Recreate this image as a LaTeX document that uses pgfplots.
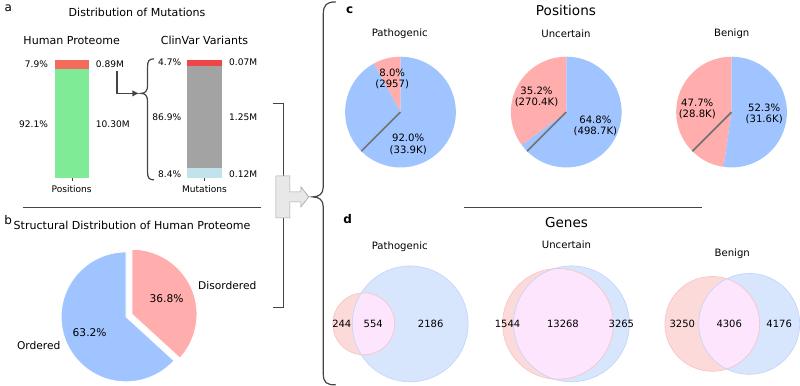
\documentclass[border=0pt]{standalone}
\usepackage{pgfplots}
\pgfplotsset{compat=1.18}
\usetikzlibrary{arrows.meta}
\usepackage{fontspec}
\setmainfont{DejaVu Sans}
\definecolor{hpred}{HTML}{F26B5B}
\definecolor{hpgreen}{HTML}{80EB97}
\definecolor{cvred}{HTML}{F04545}
\definecolor{cvgray}{HTML}{A3A3A3}
\definecolor{cvblue}{HTML}{C3E3EC}
\definecolor{pblue}{HTML}{A0C4FF}
\definecolor{pred}{HTML}{FFADAD}
\definecolor{vred}{HTML}{FDDADA}
\definecolor{vblue}{HTML}{D7E5FD}
\definecolor{vmix}{HTML}{FDE5FD}
\definecolor{vredE}{HTML}{F8C4C4}
\definecolor{vblueE}{HTML}{C2D6FA}
\definecolor{ln}{HTML}{444444}
\newcommand{\fT}{\fontsize{8.3}{9.5}\selectfont}
\newcommand{\fL}{\fontsize{6.8}{8}\selectfont}
\newcommand{\fB}{\fontsize{8}{9.5}\selectfont}
\newcommand{\fP}{\fontsize{7.6}{8.6}\selectfont}
\newcommand{\fH}{\fontsize{10.2}{12}\selectfont}
\newcommand{\fN}{\fontsize{7.5}{9}\selectfont}
\newcommand{\fLet}{\fontsize{9}{10}\selectfont}
\begin{document}
\begin{tikzpicture}
\begin{axis}[at={(0,0)},anchor=south west,width=600pt,height=291pt,scale only axis,
  xmin=0,xmax=800,ymin=0,ymax=388,y dir=reverse,hide axis,clip=false]
\coordinate (hpSW) at (axis cs:53.5,178);
\coordinate (cvSW) at (axis cs:186,178);
% ---------- panel a text ----------
\node[font=\fLet] at (axis cs:7,8) {a};
\node[font=\fT] at (axis cs:136,12.5) {Distribution of Mutations};
\node[font=\fT] at (axis cs:70.5,40.5) {Human Proteome};
\node[font=\fT] at (axis cs:203.5,40.5) {ClinVar Variants};
\node[font=\fL,anchor=east,inner sep=0pt] at (axis cs:47,64.5) {7.9\%};
\node[font=\fL,anchor=east,inner sep=0pt] at (axis cs:47,124) {92.1\%};
\node[font=\fL,anchor=west,inner sep=0pt] at (axis cs:94.5,64.5) {0.89M};
\node[font=\fL,anchor=west,inner sep=0pt] at (axis cs:94.5,124) {10.30M};
\node[font=\fL,anchor=east,inner sep=0pt] at (axis cs:180.5,62.5) {4.7\%};
\node[font=\fL,anchor=east,inner sep=0pt] at (axis cs:180.5,117.5) {86.9\%};
\node[font=\fL,anchor=east,inner sep=0pt] at (axis cs:180.5,174) {8.4\%};
\node[font=\fL,anchor=west,inner sep=0pt] at (axis cs:228,62.5) {0.07M};
\node[font=\fL,anchor=west,inner sep=0pt] at (axis cs:228,117.5) {1.25M};
\node[font=\fL,anchor=west,inner sep=0pt] at (axis cs:228,174) {0.12M};
\draw[ln,line width=0.6pt] (axis cs:70.75,178) -- (axis cs:70.75,181);
\draw[ln,line width=0.6pt] (axis cs:203.5,178) -- (axis cs:203.5,181);
\node[font=\fL] at (axis cs:70.5,189.5) {Positions};
\node[font=\fL] at (axis cs:203.5,189.5) {Mutations};
% arrow and brace
\draw[ln,line width=1pt,-{Latex[length=5pt,width=5pt]}] (axis cs:116,71) -- (axis cs:116,93.5) -- (axis cs:138,93.5);
\draw[ln,line width=0.9pt] (axis cs:153,59) .. controls (axis cs:148,59) and (axis cs:146.5,61) .. (axis cs:146.5,67)
  -- (axis cs:146.5,86) .. controls (axis cs:146.5,91) and (axis cs:144,93.5) .. (axis cs:140,93.5)
  .. controls (axis cs:144,93.5) and (axis cs:146.5,96) .. (axis cs:146.5,101)
  -- (axis cs:146.5,172) .. controls (axis cs:146.5,178) and (axis cs:148,180) .. (axis cs:153,180);
\draw[ln,line width=0.8pt] (axis cs:22,207.5) -- (axis cs:260,207.5);
% ---------- panel b ----------
\node[font=\fLet] at (axis cs:7,220) {b};
\node[font=\fT] at (axis cs:131,225.5) {Structural Distribution of Human Proteome};
\fill[pblue,draw=white,line width=0.6pt] (axis cs:125,317) -- ++(90:48.75pt) arc[start angle=90,end angle={90+3.6*63.2},radius=48.75pt] -- cycle;
\fill[pred,draw=white,line width=0.6pt] ([shift={(23.76:4.9pt)}]axis cs:125,317) -- ++({90-3.6*36.8}:48.75pt) arc[start angle={90-3.6*36.8},end angle=90,radius=48.75pt] -- cycle;
\node[font=\fB] at (axis cs:165.5,299) {36.8\%};
\node[font=\fB] at (axis cs:88.5,333) {63.2\%};
\node[font=\fB,anchor=west,inner sep=0pt] at (axis cs:197,286) {Disordered};
\node[font=\fB,anchor=east,inner sep=0pt] at (axis cs:59.5,346) {Ordered};
% middle connector
\draw[ln,line width=0.8pt] (axis cs:272,104) -- (axis cs:283,104) -- (axis cs:283,308) -- (axis cs:272,308);
\filldraw[fill=black!9,draw=black!35,line width=0.5pt] (axis cs:275,176) -- (axis cs:289,176) -- (axis cs:289,192) -- (axis cs:300,192) -- (axis cs:300,187) -- (axis cs:308,197) -- (axis cs:300,207) -- (axis cs:300,202) -- (axis cs:289,202) -- (axis cs:289,218) -- (axis cs:275,218) -- cycle;
\draw[ln,line width=0.9pt] (axis cs:335,2) .. controls (axis cs:326,2) and (axis cs:322.5,5) .. (axis cs:322.5,14)
  -- (axis cs:322.5,187) .. controls (axis cs:322.5,194) and (axis cs:318,197) .. (axis cs:312,197)
  .. controls (axis cs:318,197) and (axis cs:322.5,200) .. (axis cs:322.5,207)
  -- (axis cs:322.5,374) .. controls (axis cs:322.5,383) and (axis cs:326,385) .. (axis cs:335,385);
% ---------- panel c ----------
\node[font=\fLet\bfseries] at (axis cs:349,10) {c};
\node[font=\fH] at (axis cs:565.5,11) {Positions};
\node[font=\fP] at (axis cs:399,34) {Pathogenic};
\node[font=\fP] at (axis cs:565.5,34) {Uncertain};
\node[font=\fP] at (axis cs:731.5,34) {Benign};
% Pathogenic
\fill[pred] (axis cs:399.8,112.2) -- ++(90:41.6pt) arc[start angle=90,end angle={90+3.6*8.0},radius=41.6pt] -- cycle;
\fill[pblue] (axis cs:399.8,112.2) -- ++({90+3.6*8.0}:41.6pt) arc[start angle={90+3.6*8.0},end angle=450,radius=41.6pt] -- cycle;
\draw[black!55,line width=1.2pt] (axis cs:399.8,112.2) -- ++(225:41.6pt);
\node[font=\fP,align=center,inner sep=0pt] at (axis cs:391.5,79) {8.0\%\\(2957)};
\node[font=\fP,align=center,inner sep=0pt] at (axis cs:407.5,144.5) {92.0\%\\(33.9K)};
% Uncertain
\fill[pred] (axis cs:565.8,112.2) -- ++(90:41.6pt) arc[start angle=90,end angle={90+3.6*35.2},radius=41.6pt] -- cycle;
\fill[pblue] (axis cs:565.8,112.2) -- ++({90+3.6*35.2}:41.6pt) arc[start angle={90+3.6*35.2},end angle=450,radius=41.6pt] -- cycle;
\draw[black!55,line width=1.2pt] (axis cs:565.8,112.2) -- ++(225:41.6pt);
\node[font=\fP,align=center,inner sep=0pt] at (axis cs:536,97) {35.2\%\\(270.4K)};
\node[font=\fP,align=center,inner sep=0pt] at (axis cs:595,126) {64.8\%\\(498.7K)};
% Benign
\fill[pred] (axis cs:731.3,112.2) -- ++(90:41.6pt) arc[start angle=90,end angle={90+3.6*47.7},radius=41.6pt] -- cycle;
\fill[pblue] (axis cs:731.3,112.2) -- ++({90+3.6*47.7}:41.6pt) arc[start angle={90+3.6*47.7},end angle=450,radius=41.6pt] -- cycle;
\draw[black!55,line width=1.2pt] (axis cs:731.3,112.2) -- ++(225:41.6pt);
\node[font=\fP,align=center,inner sep=0pt] at (axis cs:697,109) {47.7\%\\(28.8K)};
\node[font=\fP,align=center,inner sep=0pt] at (axis cs:764,114) {52.3\%\\(31.6K)};
\draw[ln,line width=0.8pt] (axis cs:463,207.5) -- (axis cs:702,207.5);
% ---------- panel d ----------
\node[font=\fLet\bfseries] at (axis cs:347,219) {d};
\node[font=\fH] at (axis cs:566,223) {Genes};
\node[font=\fP] at (axis cs:399,247) {Pathogenic};
\node[font=\fP] at (axis cs:566,245) {Uncertain};
\node[font=\fP] at (axis cs:732,254) {Benign};
% Venn pathogenic
\fill[vred] (axis cs:363,324) circle[radius=23.25pt];
\fill[vblue] (axis cs:409.5,324) circle[radius=43.5pt];
\begin{scope}\clip (axis cs:363,324) circle[radius=23.25pt];
\fill[vmix] (axis cs:409.5,324) circle[radius=43.5pt];\end{scope}
\draw[vredE,line width=0.5pt] (axis cs:363,324) circle[radius=23.25pt];
\draw[vblueE,line width=0.5pt] (axis cs:409.5,324) circle[radius=43.5pt];
\node[font=\fN] at (axis cs:341,324) {244};
\node[font=\fN] at (axis cs:372.5,324) {554};
\node[font=\fN] at (axis cs:430,324) {2186};
% Venn uncertain
\fill[vred] (axis cs:557.5,324) circle[radius=41.6pt];
\fill[vblue] (axis cs:571,324) circle[radius=43.5pt];
\begin{scope}\clip (axis cs:557.5,324) circle[radius=41.6pt];
\fill[vmix] (axis cs:571,324) circle[radius=43.5pt];\end{scope}
\draw[vredE,line width=0.5pt] (axis cs:557.5,324) circle[radius=41.6pt];
\draw[vblueE,line width=0.5pt] (axis cs:571,324) circle[radius=43.5pt];
\node[font=\fN] at (axis cs:507,324) {1544};
\node[font=\fN] at (axis cs:562.5,324) {13268};
\node[font=\fN] at (axis cs:621,324) {3265};
% Venn benign
\fill[vred] (axis cs:712,324) circle[radius=35.6pt];
\fill[vblue] (axis cs:749,324) circle[radius=37.9pt];
\begin{scope}\clip (axis cs:712,324) circle[radius=35.6pt];
\fill[vmix] (axis cs:749,324) circle[radius=37.9pt];\end{scope}
\draw[vredE,line width=0.5pt] (axis cs:712,324) circle[radius=35.6pt];
\draw[vblueE,line width=0.5pt] (axis cs:749,324) circle[radius=37.9pt];
\node[font=\fN] at (axis cs:682,324) {3250};
\node[font=\fN] at (axis cs:729,324) {4306};
\node[font=\fN] at (axis cs:779,324) {4176};
\end{axis}
% ---------- bars ----------
\begin{axis}[at={(hpSW)},anchor=south west,width=25.9pt,height=88.5pt,scale only axis,
  xmin=-0.5,xmax=0.5,ymin=0,ymax=100,hide axis,ybar stacked,bar width=25.9pt]
\addplot[fill=hpgreen,draw=none] coordinates {(0,92.1)};
\addplot[fill=hpred,draw=none] coordinates {(0,7.9)};
\end{axis}
\begin{axis}[at={(cvSW)},anchor=south west,width=26.25pt,height=88.5pt,scale only axis,
  xmin=-0.5,xmax=0.5,ymin=0,ymax=100,hide axis,ybar stacked,bar width=26.25pt]
\addplot[fill=cvblue,draw=none] coordinates {(0,8.4)};
\addplot[fill=cvgray,draw=none] coordinates {(0,86.9)};
\addplot[fill=cvred,draw=none] coordinates {(0,4.7)};
\end{axis}
\end{tikzpicture}
\end{document}
